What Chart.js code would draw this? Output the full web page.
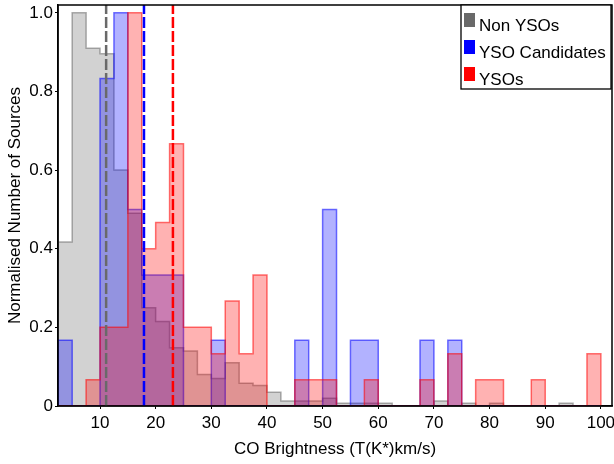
<!DOCTYPE html>
<html>
<head>
<meta charset="utf-8">
<script src="https://cdn.jsdelivr.net/npm/chart.js@4.4.0/dist/chart.umd.min.js"></script>
<style>
  html, body { margin: 0; padding: 0; background: #fff; }
  #wrap { width: 614px; height: 464px; }
</style>
</head>
<body>
<div id="wrap"><canvas id="coChart" width="614" height="464"></canvas></div>
<script>
// histogram bin edges (CO brightness, K km/s)
const binEdges = [2.5, 5, 7.5, 10, 12.5, 15, 17.5, 20, 22.5, 25, 27.5, 30, 32.5, 35, 37.5, 40,
    42.5, 45, 47.5, 50, 52.5, 55, 57.5, 60, 62.5, 65, 67.5, 70, 72.5, 75, 77.5, 80,
    82.5, 85, 87.5, 90, 92.5, 95, 97.5, 100];

// normalised counts per bin
const nonYsos = [0.417, 1.0, 0.91, 0.896, 0.6, 0.49, 0.25, 0.215, 0.148, 0.14, 0.08, 0.07, 0.11,
    0.058, 0.052, 0.035, 0.013, 0.013, 0.013, 0.02, 0.007, 0.007, 0.007, 0.007, 0, 0, 0,
    0.013, 0, 0.007, 0, 0.007, 0, 0, 0, 0, 0.007, 0, 0];
const ysoCandidates = [0.167, 0, 0, 0.833, 1.0, 0.5, 0.333, 0.333, 0.333, 0, 0, 0.167, 0,
    0, 0, 0, 0, 0.167, 0, 0.5, 0, 0.167, 0.167, 0, 0, 0, 0.167, 0, 0.167, 0,
    0, 0, 0, 0, 0, 0, 0, 0, 0];
const ysos = [0, 0, 0.067, 0.2, 0.2, 1.0, 0.4, 0.467, 0.667, 0.2, 0.2, 0.133, 0.267, 0.133,
    0.333, 0, 0, 0.067, 0.067, 0.067, 0, 0, 0.067, 0, 0, 0, 0.067, 0, 0.133, 0,
    0.067, 0.067, 0, 0, 0.067, 0, 0, 0, 0.133];

// median markers
const medianNonYso = 11.1;
const medianCandidate = 17.9;
const medianYso = 23.1;

const seriesNames = ['Non YSOs', 'YSO Candidates', 'YSOs'];
const xRange = [2.45, 102];
const yRange = [0, 1.02];

const FONT = '"Liberation Sans", Arial, sans-serif';

function stepPoints(values) {
    const pts = [{ x: binEdges[0], y: 0 }];
    values.forEach((v, i) => pts.push({ x: binEdges[i], y: v }));
    pts.push({ x: binEdges[binEdges.length - 1], y: 0 });
    return pts;
}

function histDataset(label, values, fill, edge, order) {
    return {
        label: label,
        data: stepPoints(values),
        stepped: 'before',
        fill: 'origin',
        backgroundColor: fill,
        borderColor: edge,
        borderWidth: 1.5,
        pointRadius: 0,
        order: order
    };
}

function medianLine(x, color) {
    return {
        label: '',
        data: [{ x: x, y: yRange[0] }, { x: x, y: yRange[1] }],
        borderColor: color,
        borderWidth: 2.5,
        borderDash: [11, 3],
        pointRadius: 0,
        fill: false,
        order: 0
    };
}

const legendColors = ['rgb(105,105,105)', 'rgb(0,0,255)', 'rgb(255,0,0)'];

// boxed legend in the upper right of the plot area
const boxLegend = {
    id: 'boxLegend',
    afterDraw(chart) {
        const { ctx, chartArea } = chart;
        const w = 150, h = 84;
        const x0 = chartArea.right - w - 1, y0 = chartArea.top;
        ctx.save();
        ctx.fillStyle = '#fff';
        ctx.fillRect(x0, y0, w, h);
        ctx.strokeStyle = '#000';
        ctx.lineWidth = 1.3;
        ctx.strokeRect(x0, y0, w, h);
        ctx.font = '17px ' + FONT;
        ctx.textBaseline = 'middle';
        seriesNames.forEach((name, i) => {
            const cy = y0 + 15 + i * 27;
            ctx.fillStyle = legendColors[i];
            ctx.fillRect(x0 + 3, cy - 7, 11, 14);
            ctx.fillStyle = '#000';
            ctx.fillText(name, x0 + 18, cy + 6);
        });
        ctx.restore();
    }
};

// frame on top and right like the reference axes box
const frame = {
    id: 'frame',
    afterDatasetsDraw(chart) {
        const { ctx, chartArea } = chart;
        ctx.save();
        ctx.strokeStyle = '#000';
        ctx.lineWidth = 1.5;
        ctx.strokeRect(chartArea.left, chartArea.top, chartArea.right - chartArea.left, chartArea.bottom - chartArea.top);
        ctx.restore();
    }
};

new Chart(document.getElementById('coChart').getContext('2d'), {
    type: 'line',
    data: {
        datasets: [
            histDataset(seriesNames[0], nonYsos, 'rgba(105,105,105,0.3)', 'rgba(105,105,105,0.55)', 3),
            histDataset(seriesNames[1], ysoCandidates, 'rgba(0,0,255,0.3)', 'rgba(0,0,255,0.55)', 2),
            histDataset(seriesNames[2], ysos, 'rgba(255,0,0,0.3)', 'rgba(255,0,0,0.55)', 1),
            medianLine(medianNonYso, 'rgb(105,105,105)'),
            medianLine(medianCandidate, 'rgb(0,0,255)'),
            medianLine(medianYso, 'rgb(255,0,0)')
        ]
    },
    options: {
        responsive: false,
        animation: false,
        devicePixelRatio: 1,
        layout: { padding: { top: 5, right: 2, left: 0, bottom: 0 } },
        scales: {
            x: {
                type: 'linear',
                min: xRange[0],
                max: xRange[1],
                afterFit: s => { s.height = 58; s.paddingLeft = 0; s.paddingRight = 0; },
                grid: { drawOnChartArea: false, tickLength: 3, color: '#000' },
                border: { color: '#000', width: 1.5 },
                ticks: {
                    stepSize: 10,
                    includeBounds: false,
                    padding: 4,
                    color: '#000',
                    maxRotation: 0,
                    font: { family: FONT, size: 17 }
                },
                title: {
                    display: true,
                    text: 'CO Brightness (T(K*)km/s)',
                    color: '#000',
                    font: { family: FONT, size: 17 },
                    padding: { top: 0, bottom: 4 }
                }
            },
            y: {
                min: yRange[0],
                max: yRange[1],
                afterFit: s => { s.width = 58; s.paddingTop = 0; s.paddingBottom = 0; },
                grid: { drawOnChartArea: false, tickLength: 3, color: '#000' },
                border: { color: '#000', width: 1.5 },
                ticks: {
                    stepSize: 0.2,
                    includeBounds: false,
                    padding: 2,
                    color: '#000',
                    font: { family: FONT, size: 17 },
                    callback: v => (v === 0 ? '0' : v.toFixed(1))
                },
                title: {
                    display: true,
                    text: 'Normalised Number of Sources',
                    color: '#000',
                    font: { family: FONT, size: 17 },
                    padding: { top: 5, bottom: 0 }
                }
            }
        },
        plugins: {
            legend: { display: false },
            tooltip: { enabled: false }
        }
    },
    plugins: [frame, boxLegend]
});
</script>
</body>
</html>
